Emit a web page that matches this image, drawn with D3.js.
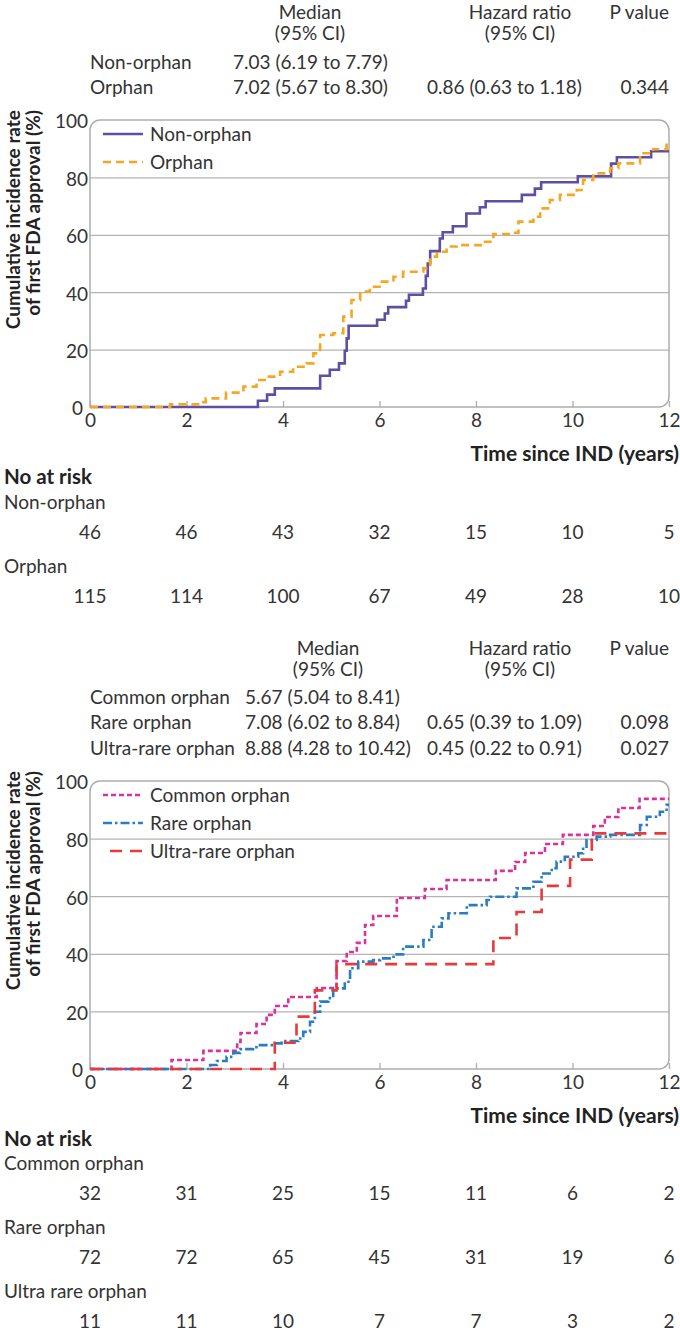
<!DOCTYPE html>
<html>
<head>
<meta charset="utf-8">
<script src="https://cdn.jsdelivr.net/npm/d3@7"></script>
<style>
  body { margin: 0; background: #fff; }
  text { font-family: Lato, "Open Sans", sans-serif; fill: #333; }
  .bold { font-weight: bold; fill: #222; }
</style>
</head>
<body>
<svg id="chart" width="680" height="1332"></svg>
<script>
// ---- data ----
const xTicks = [0, 2, 4, 6, 8, 10, 12];
const yTicks = [0, 20, 40, 60, 80, 100];

// panel 1
const groups1 = ["Non-orphan", "Orphan"];
const medians1 = ["7.03 (6.19 to 7.79)", "7.02 (5.67 to 8.30)"];
const hazards1 = ["", "0.86 (0.63 to 1.18)"];
const pvalues1 = ["", "0.344"];
const atRisk1 = [[46, 46, 43, 32, 15, 10, 5], [115, 114, 100, 67, 49, 28, 10]];
const riskLabels1 = ["Non-orphan", "Orphan"];

const nonOrphan = [[0,0],[3.48,2.2],[3.67,4.3],[3.83,6.5],[4.77,10.9],[4.97,13.0],[5.16,15.2],[5.28,19.6],
  [5.32,23.9],[5.36,28.3],[5.95,30.4],[6.11,32.6],[6.18,34.8],[6.55,37.0],[6.61,39.1],[6.9,41.3],[6.96,45.7],
  [7.0,50.0],[7.05,54.3],[7.25,58.7],[7.31,60.9],[7.52,63.0],[7.8,67.4],[8.08,69.6],[8.2,71.7],[8.95,73.9],
  [9.22,76.1],[9.35,78.3],[10.11,80.4],[10.8,84.8],[10.92,87.0],[11.63,89.1],[12,89.1]];
const orphan = [[0,0],[1.66,0.9],[2.28,1.7],[2.4,3.0],[2.82,5.0],[3.18,7.1],[3.45,9.4],[3.66,10.6],[3.94,12.3],
  [4.21,14.0],[4.49,15.2],[4.63,18.7],[4.77,25.1],[5.04,25.7],[5.25,31.5],[5.42,37.3],[5.6,40.2],[5.8,41.9],
  [6.0,43.7],[6.29,45.4],[6.49,47.1],[6.91,48.3],[7.05,52.4],[7.19,54.1],[7.39,55.9],[7.6,56.4],[8.15,57.6],
  [8.36,60.3],[8.77,60.7],[8.88,64.6],[9.19,66.3],[9.33,69.2],[9.53,72.1],[9.74,73.9],[10.09,75.6],[10.22,79.1],
  [10.43,81.4],[10.78,83.2],[10.95,84.9],[11.4,88.4],[11.67,89.8],[11.95,91.9],[12,91.9]];

// panel 2
const groups2 = ["Common orphan", "Rare orphan", "Ultra-rare orphan"];
const medians2 = ["5.67 (5.04 to 8.41)", "7.08 (6.02 to 8.84)", "8.88 (4.28 to 10.42)"];
const hazards2 = ["", "0.65 (0.39 to 1.09)", "0.45 (0.22 to 0.91)"];
const pvalues2 = ["", "0.098", "0.027"];
const atRisk2 = [[32, 31, 25, 15, 11, 6, 2], [72, 72, 65, 45, 31, 19, 6], [11, 11, 10, 7, 7, 3, 2]];
const riskLabels2 = ["Common orphan", "Rare orphan", "Ultra rare orphan"];

const commonOrphan = [[0,0],[1.69,3.1],[2.35,6.3],[3.05,9.4],[3.12,12.5],[3.45,15.6],[3.66,18.8],[3.83,21.9],
  [4.11,25.0],[4.7,28.1],[5.11,37.5],[5.32,40.6],[5.53,43.8],[5.7,50.0],[5.87,53.1],[6.36,59.4],[6.94,62.5],
  [7.39,65.6],[8.41,68.8],[8.81,71.9],[9.02,75.0],[9.43,78.1],[9.8,81.3],[10.43,84.4],[10.67,87.5],[10.95,90.6],
  [11.39,93.8],[12,93.8]];
const rareOrphan = [[0,0],[2.49,1.4],[2.63,2.8],[2.83,4.2],[2.97,5.6],[3.11,6.9],[3.38,7.6],[3.45,8.3],[3.83,8.9],
  [3.97,9.7],[4.32,10.6],[4.42,12.9],[4.56,16.4],[4.66,19.9],[4.77,23.4],[4.94,24.6],[5.04,28.0],[5.28,30.3],
  [5.39,35.0],[5.56,37.3],[5.87,37.8],[6.01,38.4],[6.29,39.8],[6.49,42.5],[6.91,44.8],[7.08,49.4],[7.29,52.3],
  [7.43,54.1],[7.81,56.9],[8.22,58.7],[8.29,59.8],[8.84,62.7],[9.19,65.0],[9.36,67.9],[9.57,69.7],[9.67,72.0],
  [9.84,73.7],[10.12,74.9],[10.22,77.2],[10.29,79.5],[10.5,80.7],[10.78,81.3],[11.4,84.7],[11.54,87.6],
  [11.81,89.3],[11.95,91.7],[12,91.7]];
const ultraRare = [[0,0],[3.83,9.1],[4.28,18.2],[4.66,27.3],[5.11,36.4],[8.36,45.5],[8.84,54.5],[9.36,63.6],
  [9.95,72.7],[10.4,81.8],[12,81.8]];

const headMedian = ["Median", "(95% CI)"];
const headHazard = ["Hazard ratio", "(95% CI)"];
const headP = "P value";

const FS = "19px";
const svg = d3.select("#chart");
const left = 90, right = 669;
const x = d3.scaleLinear().domain([0, 12]).range([left, right]);

function panel(cfg) {
  const y = d3.scaleLinear().domain([0, 100]).range([cfg.bottom, cfg.top]);
  const g = svg.append("g");

  // table above the plot
  headMedian.forEach((t, i) => g.append("text").attr("x", cfg.medHeadX).attr("y", cfg.headY + i * 21)
    .attr("text-anchor", "middle").attr("dy", "0.35em").style("font-size", FS).text(t));
  headHazard.forEach((t, i) => g.append("text").attr("x", cfg.hrHeadX).attr("y", cfg.headY + i * 21)
    .attr("text-anchor", "middle").attr("dy", "0.35em").style("font-size", FS).text(t));
  g.append("text").attr("x", 669).attr("y", cfg.headY).attr("text-anchor", "end").attr("dy", "0.35em")
    .style("font-size", FS).text(headP);
  cfg.groups.forEach((t, i) => {
    const ry = cfg.rowY + i * 25.5;
    g.append("text").attr("x", 90).attr("y", ry).attr("dy", "0.35em").style("font-size", FS).text(t);
    g.append("text").attr("x", cfg.medX).attr("y", ry).attr("dy", "0.35em").style("font-size", FS).text(cfg.medians[i]);
    g.append("text").attr("x", cfg.hrX).attr("y", ry).attr("dy", "0.35em").style("font-size", FS).text(cfg.hazards[i]);
    g.append("text").attr("x", 669).attr("y", ry).attr("text-anchor", "end").attr("dy", "0.35em").style("font-size", FS).text(cfg.pvalues[i]);
  });

  // gridlines
  g.append("g").attr("transform", `translate(${left},0)`)
    .call(d3.axisLeft(y).tickValues(yTicks.filter(d => d > 0 && d < 100)).tickSize(-(right - left)).tickFormat(""))
    .call(a => a.select(".domain").remove())
    .call(a => a.selectAll("line").attr("stroke", "#b4b4b4").attr("stroke-width", 1.3));

  // frame: left/bottom square, top/right rounded
  const r = 10;
  const p = d3.path();
  p.moveTo(left, cfg.bottom);
  p.lineTo(left, cfg.top + r);
  p.arcTo(left, cfg.top, left + r, cfg.top, r);
  p.lineTo(right - r, cfg.top);
  p.arcTo(right, cfg.top, right, cfg.top + r, r);
  p.lineTo(right, cfg.bottom - r);
  p.arcTo(right, cfg.bottom, right - r, cfg.bottom, r);
  p.closePath();
  g.append("path").attr("d", p.toString()).attr("fill", "none").attr("stroke", "#adadad").attr("stroke-width", 1.5);

  // y axis labels
  g.append("g").attr("transform", `translate(${left},0)`)
    .call(d3.axisLeft(y).tickValues(yTicks).tickSize(0).tickPadding(2))
    .call(a => a.select(".domain").remove())
    .call(a => a.selectAll("text").style("font-size", FS).style("font-family", "Lato, 'Open Sans', sans-serif")
      .attr("fill", "#333").attr("dy", "0.42em").attr("x", d => d === 0 ? -7 : -2));

  // x axis: inward ticks and labels
  g.append("g").attr("transform", `translate(0,${cfg.bottom})`)
    .call(d3.axisBottom(x).tickValues(xTicks).tickSize(-6).tickPadding(7))
    .call(a => a.select(".domain").remove())
    .call(a => a.selectAll("line").attr("stroke", "#adadad").attr("stroke-width", 1.3))
    .call(a => a.selectAll("text").style("font-size", FS).style("font-family", "Lato, 'Open Sans', sans-serif")
      .attr("fill", "#333"));

  // axis titles
  const ty = g.append("text").attr("class", "bold").attr("transform", `translate(13,${cfg.top - 10}) rotate(-90)`)
    .attr("text-anchor", "end").style("font-size", "19px");
  ty.append("tspan").attr("x", 0).attr("dy", "0.35em").text("Cumulative incidence rate");
  ty.append("tspan").attr("x", 0).attr("dy", "1.06em").text("of first FDA approval (%)");
  g.append("text").attr("class", "bold").attr("x", 679).attr("y", cfg.bottom + 47).attr("text-anchor", "end")
    .attr("dy", "0.35em").style("font-size", "21px").text("Time since IND (years)");

  // curves
  const line = d3.line().x(d => x(d[0])).y(d => y(d[1])).curve(d3.curveStepAfter);
  cfg.series.forEach(s => {
    g.append("path").datum(s.data).attr("d", line).attr("fill", "none").attr("stroke", s.color)
      .attr("stroke-width", 2.6).attr("stroke-dasharray", s.dash);
  });

  // legend
  cfg.series.forEach((s, i) => {
    const ly = cfg.top + 14 + i * 28;
    g.append("line").attr("x1", 103).attr("x2", 143).attr("y1", ly).attr("y2", ly)
      .attr("stroke", s.color).attr("stroke-width", 2.6).attr("stroke-dasharray", s.dash)
      .attr("stroke-dashoffset", s.legendOffset || 0);
    g.append("text").attr("x", 150).attr("y", ly).attr("dy", "0.35em").style("font-size", FS).text(s.name);
  });

  // number at risk
  g.append("text").attr("class", "bold").attr("x", 4).attr("y", cfg.bottom + 70).attr("dy", "0.35em")
    .style("font-size", "20.5px").text("No at risk");
  cfg.riskLabels.forEach((t, i) => {
    const ly = cfg.riskY[i];
    g.append("text").attr("x", 4).attr("y", ly).attr("dy", "0.35em").style("font-size", FS).text(t);
    g.selectAll(null).data(cfg.atRisk[i]).join("text")
      .attr("x", (d, j) => x(xTicks[j])).attr("y", ly + cfg.riskGap).attr("dy", "0.35em")
      .attr("text-anchor", "middle").style("font-size", FS).text(d => d);
  });
}

panel({
  top: 120, bottom: 407, headY: 12, rowY: 62, medHeadX: 310, hrHeadX: 520, medX: 233, hrX: 427,
  groups: groups1, medians: medians1, hazards: hazards1, pvalues: pvalues1,
  riskLabels: riskLabels1, atRisk: atRisk1, riskY: [502, 566], riskGap: 30,
  series: [
    { name: "Non-orphan", data: nonOrphan, color: "#5e4fa2", dash: null },
    { name: "Orphan", data: orphan, color: "#f5a623", dash: "8,5" }
  ]
});

panel({
  top: 781, bottom: 1069, headY: 648, rowY: 697, medHeadX: 328, hrHeadX: 520, medX: 245, hrX: 427,
  groups: groups2, medians: medians2, hazards: hazards2, pvalues: pvalues2,
  riskLabels: riskLabels2, atRisk: atRisk2, riskY: [1163, 1227, 1291], riskGap: 30,
  series: [
    { name: "Common orphan", data: commonOrphan, color: "#d6339c", dash: "5,3" },
    { name: "Rare orphan", data: rareOrphan, color: "#2a7dc1", dash: "9,3,2.5,3" },
    { name: "Ultra-rare orphan", data: ultraRare, color: "#e83a3a", dash: "12,8", legendOffset: -7 }
  ]
});
</script>
</body>
</html>
